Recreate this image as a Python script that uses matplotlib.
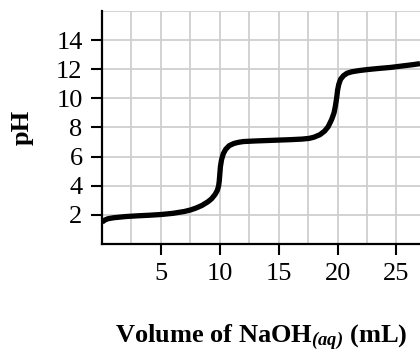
import numpy as np
import matplotlib
matplotlib.use('Agg')
import matplotlib.pyplot as plt
from matplotlib.ticker import MultipleLocator, FixedLocator

volume = [0, 0.25, 0.5, 1, 2, 3, 4, 5, 6, 7, 7.5, 8, 8.5, 9, 9.3, 9.6, 9.8,
          9.9, 9.95, 10.0, 10.05, 10.15, 10.3, 10.5, 10.8, 11.2, 11.6, 12,
          13, 14, 15, 16, 17, 17.6, 18, 18.5, 18.9, 19.2, 19.5, 19.7, 19.8,
          19.9, 19.95, 20.0, 20.1, 20.25, 20.5, 20.8, 21.2, 21.8, 22.5, 23.5,
          24.5, 25.5, 26.5, 27]
ph = [1.5, 1.65, 1.73, 1.8, 1.88, 1.93, 1.97, 2.02, 2.1, 2.23, 2.33, 2.47,
      2.65, 2.9, 3.1, 3.4, 3.7, 4.0, 4.3, 4.8, 5.3, 5.8, 6.2, 6.5, 6.75, 6.9,
      6.98, 7.03, 7.07, 7.1, 7.13, 7.16, 7.2, 7.25, 7.33, 7.5, 7.75, 8.05,
      8.55, 9.0, 9.4, 9.9, 10.2, 10.55, 10.95, 11.3, 11.55, 11.72, 11.82,
      11.9, 11.97, 12.05, 12.12, 12.22, 12.32, 12.38]

x_ticks = [5, 10, 15, 20, 25]
y_ticks = [2, 4, 6, 8, 10, 12, 14]

plt.rcParams['font.family'] = ['Liberation Serif', 'DejaVu Serif']
plt.rcParams['mathtext.fontset'] = 'custom'
plt.rcParams['mathtext.rm'] = 'Liberation Serif'
plt.rcParams['mathtext.bf'] = 'Liberation Serif:bold'
plt.rcParams['mathtext.it'] = 'Liberation Serif:italic'
plt.rcParams['mathtext.bfit'] = 'Liberation Serif:italic:bold'

fig = plt.figure(figsize=(4.2, 3.52), dpi=100)
ax = fig.add_axes([0.243, 0.307, 0.757, 0.662])

ax.plot(volume, ph, color='black', lw=3.8, solid_capstyle='butt', zorder=3)

ax.set_xlim(0, 27)
ax.set_ylim(0, 16)

ax.xaxis.set_major_locator(FixedLocator(x_ticks))
ax.yaxis.set_major_locator(FixedLocator(y_ticks))
ax.xaxis.set_minor_locator(MultipleLocator(2.5))
ax.yaxis.set_minor_locator(MultipleLocator(2))
ax.grid(which='both', color='#cfcfcf', lw=1.3, zorder=0)
ax.set_axisbelow(True)
ax.tick_params(which='minor', length=0)
ax.tick_params(which='major', length=8, width=1.5, direction='out',
               labelsize=19, pad=6)

for side in ['top', 'right']:
    ax.spines[side].set_visible(False)
for side in ['left', 'bottom']:
    ax.spines[side].set_linewidth(1.6)

ax.set_ylabel('pH', fontsize=19, fontweight='bold', labelpad=16)
ax.set_xlabel(r'Volume of NaOH$_{\mathbfit{(aq)}}$ (mL)', fontsize=19,
              fontweight='bold', labelpad=27)

plt.savefig('out.png', dpi=100)
